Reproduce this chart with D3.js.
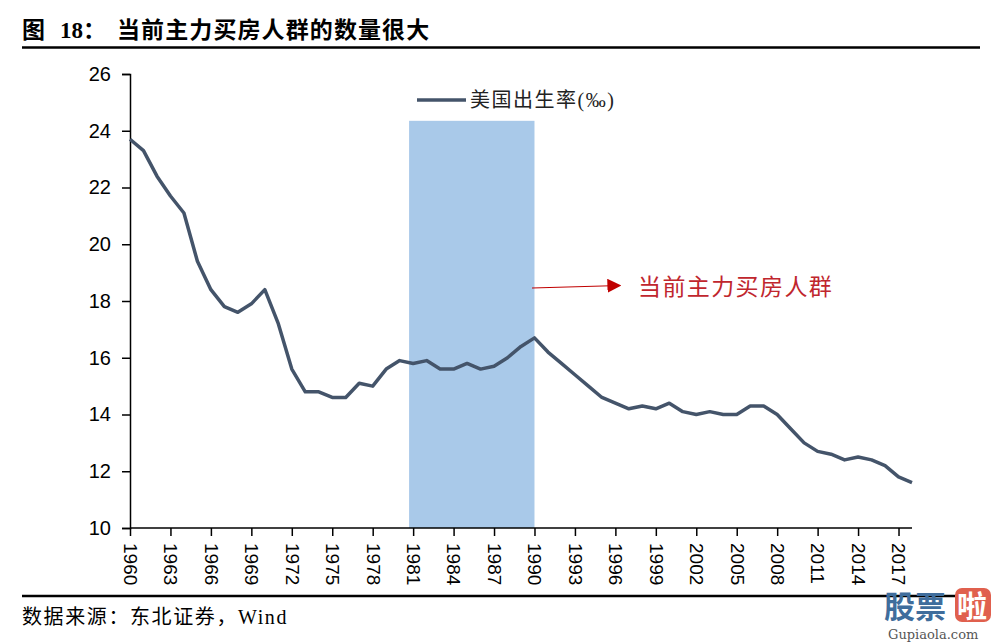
<!DOCTYPE html>
<html><head><meta charset="utf-8">
<script src="https://cdn.jsdelivr.net/npm/d3@7"></script>
<style>body{margin:0;background:#fff}svg{display:block}</style>
</head><body><svg id="c" width="1002" height="642"></svg>
<script>
const years = d3.range(1960, 2019);
const birthRate = [23.7,23.3,22.4,21.7,21.1,19.4,18.4,17.8,17.6,17.9,18.4,17.2,15.6,14.8,14.8,14.6,14.6,15.1,15.0,15.6,15.9,15.8,15.9,15.6,15.6,15.8,15.6,15.7,16.0,16.4,16.7,16.2,15.8,15.4,15.0,14.6,14.4,14.2,14.3,14.2,14.4,14.1,14.0,14.1,14.0,14.0,14.3,14.3,14.0,13.5,13.0,12.7,12.6,12.4,12.5,12.4,12.2,11.8,11.6];
const xTicks = d3.range(1960, 2018, 3);
const yTicks = [10,12,14,16,18,20,22,24,26];
const band = [1980.7, 1990];
const bandTop = 24.35;
const seriesName = "美国出生率(‰)";
const annotation = "当前主力买房人群";
const titleParts = ["图", "18：", "当前主力买房人群的数量很大"];
const source = "数据来源：东北证券，Wind";

const svg = d3.select("#c");
const serif = "'Liberation Serif','Noto Sans CJK SC',serif";
const sans = "'Liberation Sans','DejaVu Sans',sans-serif";
const x = d3.scaleLinear().domain([1960, 2018]).range([130, 912]);
const y = d3.scaleLinear().domain([10, 26]).range([528, 74]);

// title
const titleX = [22, 60, 117];
titleParts.forEach((t, i) => {
  svg.append("text").attr("x", titleX[i]).attr("y", 38).attr("font-family", serif)
    .attr("font-weight", "bold").attr("font-size", 23).attr("letter-spacing", i === 2 ? 1.1 : 0)
    .attr("fill", "#000").text(t);
});
svg.append("line").attr("x1", 22).attr("x2", 980).attr("y1", 47.5).attr("y2", 47.5)
  .attr("stroke", "#000").attr("stroke-width", 2.5);

// band
svg.append("rect").attr("x", x(band[0])).attr("width", x(band[1]) - x(band[0]))
  .attr("y", y(bandTop)).attr("height", y(10) - y(bandTop)).attr("fill", "#a9c9e9");

// y axis
const ya = svg.append("g").attr("transform", "translate(130,0)")
  .call(d3.axisLeft(y).tickValues(yTicks).tickSize(8).tickPadding(11).tickFormat(d3.format("d")));
ya.select(".domain").attr("stroke", "#000").attr("stroke-width", 1.5);
ya.selectAll(".tick line").attr("stroke", "#000").attr("stroke-width", 1.5);
ya.selectAll("text").attr("font-family", sans).attr("font-size", 20).attr("fill", "#000");

// x axis
const xa = svg.append("g").attr("transform", "translate(0,528)")
  .call(d3.axisBottom(x).tickValues(xTicks).tickSize(8).tickFormat(d3.format("d")));
xa.select(".domain").attr("stroke", "#000").attr("stroke-width", 1.5).attr("d", "M130,0H912");
xa.selectAll(".tick line").attr("stroke", "#000").attr("stroke-width", 1.5);
xa.selectAll("text").attr("font-family", sans).attr("font-size", 19).attr("fill", "#000")
  .attr("transform", "rotate(90)").attr("text-anchor", "start")
  .attr("x", 15).attr("y", 0).attr("dy", "0.35em");

// line
svg.append("path").datum(birthRate)
  .attr("d", d3.line().x((d, i) => x(years[i])).y(d => y(d)))
  .attr("fill", "none").attr("stroke", "#44546a").attr("stroke-width", 3.5)
  .attr("stroke-linejoin", "round");

// legend
svg.append("line").attr("x1", 417).attr("x2", 466).attr("y1", 100).attr("y2", 100)
  .attr("stroke", "#44546a").attr("stroke-width", 3.5);
svg.append("text").attr("x", 470).attr("y", 107).attr("font-family", serif)
  .attr("font-size", 20).attr("letter-spacing", 1.5).attr("fill", "#222").text(seriesName);

// annotation arrow
const defs = svg.append("defs");
defs.append("marker").attr("id", "ah").attr("viewBox", "0 0 10 10").attr("refX", 9).attr("refY", 5)
  .attr("markerWidth", 14).attr("markerHeight", 14).attr("markerUnits", "userSpaceOnUse")
  .attr("orient", "auto").append("path").attr("d", "M0,0L10,5L0,10Z").attr("fill", "#c00000");
svg.append("line").attr("x1", 532).attr("y1", 288).attr("x2", 620).attr("y2", 285.5)
  .attr("stroke", "#c00000").attr("stroke-width", 1.2).attr("marker-end", "url(#ah)");
svg.append("text").attr("x", 638).attr("y", 295).attr("font-family", serif)
  .attr("font-size", 23).attr("letter-spacing", 1.4).attr("fill", "#c0262d").text(annotation);

// footer
svg.append("line").attr("x1", 22).attr("x2", 980).attr("y1", 596).attr("y2", 596)
  .attr("stroke", "#000").attr("stroke-width", 2.5);
svg.append("text").attr("x", 22).attr("y", 624).attr("font-family", serif)
  .attr("font-size", 20).attr("letter-spacing", 1.6).attr("fill", "#000").text(source);

// watermark
const wm = svg.append("g");
wm.append("text").attr("x", 884).attr("y", 618).attr("font-family", "'Noto Sans CJK SC',sans-serif")
  .attr("font-weight", "bold").attr("font-size", 31).attr("fill", "#3f6d9c").text("股票");
wm.append("rect").attr("x", 955).attr("y", 588).attr("width", 36).attr("height", 34).attr("rx", 7).attr("fill", "#e0604e");
wm.append("text").attr("x", 957).attr("y", 617).attr("font-family", "'Noto Sans CJK SC',sans-serif")
  .attr("font-weight", "bold").attr("font-size", 30).attr("fill", "#fff").text("啦");
wm.append("text").attr("x", 888).attr("y", 639).attr("font-family", "'DejaVu Serif',serif")
  .attr("font-size", 13).attr("fill", "#555").text("Gupiaola.com");
</script></body></html>
